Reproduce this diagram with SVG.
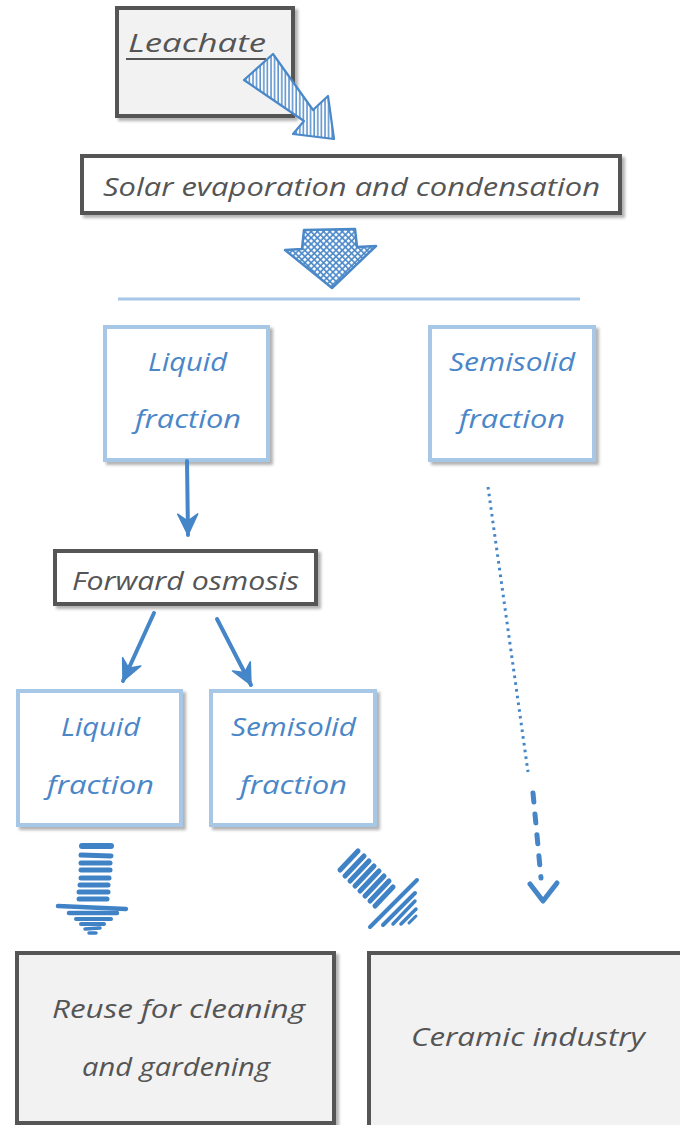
<svg xmlns="http://www.w3.org/2000/svg" width="680" height="1125" viewBox="0 0 680 1125">
  <defs>
    <style>
      .dark { fill: #f2f2f2; stroke: #555555; stroke-width: 4; }
      .darkw { fill: #ffffff; stroke: #555555; stroke-width: 4; }
      .blue { fill: #ffffff; stroke: #a7c7e7; stroke-width: 4; }
      .tdark { font-family: "Open Sans", "Liberation Sans", sans-serif; font-style: italic; fill: #555555; font-size: 25px; }
      .tblue { font-family: "Open Sans", "Liberation Sans", sans-serif; font-style: italic; fill: #4a86c8; font-size: 25px; }
      .arrow { fill: none; stroke: #4586c8; stroke-width: 4; stroke-linecap: round; }
      .stripe { fill: none; stroke: #3f82c6; stroke-linecap: round; }
    </style>
    <filter id="shadow" x="-10%" y="-10%" width="130%" height="130%">
      <feDropShadow dx="3" dy="3" stdDeviation="1.8" flood-color="#000000" flood-opacity="0.3"/>
    </filter>
    <pattern id="vhatch" patternUnits="userSpaceOnUse" width="3.6" height="10">
      <rect width="3.6" height="10" fill="#ffffff"/>
      <line x1="1" y1="0" x2="1" y2="10" stroke="#4a88c8" stroke-width="1.4"/>
    </pattern>
    <pattern id="xhatch" patternUnits="userSpaceOnUse" width="4.4" height="4.4" patternTransform="rotate(45)">
      <rect width="4.4" height="4.4" fill="#ffffff"/>
      <line x1="0" y1="1" x2="4.4" y2="1" stroke="#4a88c8" stroke-width="1.6"/>
      <line x1="1" y1="0" x2="1" y2="4.4" stroke="#4a88c8" stroke-width="1.6"/>
    </pattern>
    <marker id="head" markerUnits="userSpaceOnUse" markerWidth="26" markerHeight="26" refX="22" refY="12" orient="auto" viewBox="0 0 26 24">
      <path d="M22,12 L1,2 L8,12 L1,22 Z" fill="#4586c8" stroke="#4586c8" stroke-width="1.5" stroke-linejoin="round"/>
    </marker>
  </defs>

  <!-- nodes -->
  <g id="leachate">
    <rect class="dark" x="117" y="8" width="176" height="108" filter="url(#shadow)"/>
    <text class="tdark" x="128" y="52" font-size="27" textLength="138" lengthAdjust="spacingAndGlyphs">Leachate</text>
    <line x1="126" y1="59" x2="266" y2="59" stroke="#555555" stroke-width="2"/>
  </g>

  <g id="solar">
    <rect class="darkw" x="82" y="156" width="538" height="57" filter="url(#shadow)"/>
    <text class="tdark" x="103" y="196" textLength="497" lengthAdjust="spacingAndGlyphs">Solar evaporation and condensation</text>
  </g>

  <g id="liquid1">
    <rect class="blue" x="105" y="327" width="163" height="133" filter="url(#shadow)"/>
    <text class="tblue" x="148" y="371" textLength="79" lengthAdjust="spacingAndGlyphs">Liquid</text>
    <text class="tblue" x="135" y="428" textLength="106" lengthAdjust="spacingAndGlyphs">fraction</text>
  </g>

  <g id="semisolid1">
    <rect class="blue" x="430" y="327" width="164" height="133" filter="url(#shadow)"/>
    <text class="tblue" x="449" y="371" textLength="126" lengthAdjust="spacingAndGlyphs">Semisolid</text>
    <text class="tblue" x="459" y="428" textLength="106" lengthAdjust="spacingAndGlyphs">fraction</text>
  </g>

  <g id="forward-osmosis">
    <rect class="darkw" x="55" y="551" width="261" height="53" filter="url(#shadow)"/>
    <text class="tdark" x="72" y="590" font-size="24" textLength="227" lengthAdjust="spacingAndGlyphs">Forward osmosis</text>
  </g>

  <g id="liquid2">
    <rect class="blue" x="18" y="691" width="163" height="134" filter="url(#shadow)"/>
    <text class="tblue" x="61" y="736" textLength="79" lengthAdjust="spacingAndGlyphs">Liquid</text>
    <text class="tblue" x="47" y="794" textLength="107" lengthAdjust="spacingAndGlyphs">fraction</text>
  </g>

  <g id="semisolid2">
    <rect class="blue" x="211" y="691" width="164" height="134" filter="url(#shadow)"/>
    <text class="tblue" x="231" y="736" textLength="125" lengthAdjust="spacingAndGlyphs">Semisolid</text>
    <text class="tblue" x="240" y="794" textLength="107" lengthAdjust="spacingAndGlyphs">fraction</text>
  </g>

  <g id="reuse">
    <rect class="dark" x="17" y="953" width="317" height="170" filter="url(#shadow)"/>
    <text class="tdark" x="52" y="1018" textLength="253" lengthAdjust="spacingAndGlyphs">Reuse for cleaning</text>
    <text class="tdark" x="82" y="1076" textLength="188" lengthAdjust="spacingAndGlyphs">and gardening</text>
  </g>

  <g id="ceramic">
    <rect class="dark" x="369" y="953" width="340" height="175" filter="url(#shadow)"/>
    <text class="tdark" x="411" y="1046" textLength="234" lengthAdjust="spacingAndGlyphs">Ceramic industry</text>
  </g>

  <!-- connectors -->
  <g id="connectors">
    <!-- hatched arrow from Leachate -->
    <path d="M273,54 L313,110 L328,96 L334,139 L293,134 L304,121 L244,80 Z" fill="url(#vhatch)" stroke="#4a88c8" stroke-width="2.2" stroke-linejoin="round"/>

    <!-- cross-hatched block arrow -->
    <path d="M304,230 L355,229 L357,247 L376,246 L332,288 L285,250 L302,249 Z" fill="url(#xhatch)" stroke="#4a88c8" stroke-width="2.5" stroke-linejoin="round"/>

    <!-- split line -->
    <line x1="118" y1="299" x2="580" y2="299" stroke="#a7c7e7" stroke-width="3"/>

    <!-- solid arrows -->
    <line class="arrow" x1="187" y1="461" x2="188" y2="535" marker-end="url(#head)"/>
    <line class="arrow" x1="154" y1="613" x2="123" y2="681" marker-end="url(#head)"/>
    <line class="arrow" x1="217" y1="619" x2="251" y2="685" marker-end="url(#head)"/>

    <!-- dotted then dashed path to ceramic industry -->
    <line x1="488" y1="487" x2="528" y2="772" stroke="#4586c8" stroke-width="3" stroke-dasharray="2.6 4.2"/>
    <line x1="533" y1="793" x2="541" y2="878" stroke="#4586c8" stroke-width="5" stroke-linecap="round" stroke-dasharray="9 12"/>
    <polyline points="530,884 543,901 557,883" fill="none" stroke="#4586c8" stroke-width="5" stroke-linecap="round" stroke-linejoin="round"/>

    <!-- striped down arrow -->
    <g class="stripe" stroke-width="5">
      <line x1="82" y1="846" x2="111" y2="846" stroke-width="6"/>
      <line x1="81" y1="855" x2="111" y2="856"/>
      <line x1="81" y1="863" x2="110" y2="863"/>
      <line x1="81" y1="870" x2="110" y2="870"/>
      <line x1="81" y1="878" x2="109" y2="878"/>
      <line x1="80" y1="885" x2="108" y2="885"/>
      <line x1="79" y1="892" x2="108" y2="892"/>
      <line x1="79" y1="899" x2="107" y2="899"/>
      <line x1="58" y1="906" x2="126" y2="909" stroke-width="4.5"/>
      <line x1="69" y1="913" x2="117" y2="913" stroke-width="4.5"/>
      <line x1="76" y1="919" x2="111" y2="919" stroke-width="4"/>
      <line x1="81" y1="924" x2="104" y2="924" stroke-width="4"/>
      <line x1="85" y1="929" x2="100" y2="928" stroke-width="3.5"/>
      <line x1="89" y1="933" x2="96" y2="933" stroke-width="3.5"/>
    </g>

    <!-- striped diagonal arrow -->
    <g class="stripe" stroke-width="5">
      <line x1="340" y1="870" x2="358" y2="851"/>
      <line x1="345" y1="876" x2="364" y2="856"/>
      <line x1="350" y1="881" x2="369" y2="861"/>
      <line x1="355" y1="886" x2="374" y2="866"/>
      <line x1="360" y1="891" x2="379" y2="871"/>
      <line x1="365" y1="896" x2="384" y2="876"/>
      <line x1="370" y1="901" x2="389" y2="881"/>
      <line x1="375" y1="906" x2="393" y2="887"/>
      <line x1="370" y1="927" x2="417" y2="880" stroke-width="4"/>
      <line x1="383" y1="925" x2="415" y2="893" stroke-width="4"/>
      <line x1="393" y1="924" x2="415" y2="901" stroke-width="3.5"/>
      <line x1="401" y1="924" x2="416" y2="909" stroke-width="3.5"/>
      <line x1="409" y1="923" x2="416" y2="916" stroke-width="3"/>
    </g>
  </g>
</svg>
